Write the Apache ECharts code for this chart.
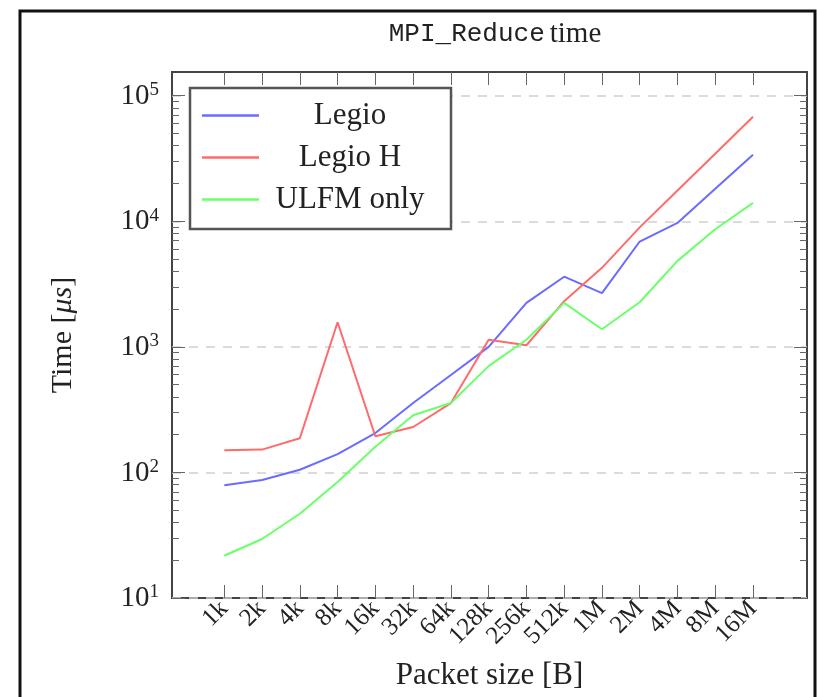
<!DOCTYPE html>
<html>
<head>
<meta charset="utf-8">
<script src="https://cdn.jsdelivr.net/npm/echarts@6/dist/echarts.min.js"></script>
<style>
  html, body { margin: 0; padding: 0; background: #fff; }
  #chart { width: 817px; height: 697px; }
</style>
</head>
<body>
<div id="chart"></div>
<script>
(function() {
    'use strict';

    // packet sizes on the x axis
    const sizes = ['1k', '2k', '4k', '8k', '16k', '32k', '64k', '128k', '256k', '512k', '1M', '2M', '4M', '8M', '16M'];

    // times in microseconds
    const legio = [79, 87, 105, 140, 206, 357, 597, 1000, 2240, 3620, 2680, 6900, 9700, 18200, 33900];
    const legioH = [150, 152, 187, 1570, 194, 230, 357, 1140, 1030, 2310, 4260, 8940, 17600, 34500, 67900];
    const ulfm = [21.7, 29.5, 46.9, 83.8, 160, 285, 357, 702, 1140, 2240, 1380, 2265, 4840, 8650, 14000];

    const majorTicks = [10, 100, 1000, 10000, 100000];
    const minorTicks = [];
    [10, 100, 1000, 10000].forEach(function(d) {
        for (let k = 2; k <= 9; k++) minorTicks.push(k * d);
    });
    const xIdx = sizes.map(function(_, i) { return i; });

    const serif = '"Liberation Serif", "DejaVu Serif", serif';
    const mono = '"Liberation Mono", "DejaVu Sans Mono", monospace';
    const tickColor = '#666';
    const textColor = '#222';

    function pairs(arr) {
        return arr.map(function(v, i) { return [i, v]; });
    }

    function yAxisPair(side) {
        const base = {
            type: 'log',
            logBase: 10,
            min: 10,
            max: 154500,
            position: side,
            axisLine: { show: false, onZero: false }
        };
        const major = Object.assign({}, base, {
            axisTick: { inside: true, length: 13, customValues: majorTicks, lineStyle: { color: tickColor, width: 1 } },
            axisLabel: side === 'left' ? {
                customValues: majorTicks,
                margin: 13,
                formatter: function(v) {
                    return '{b|10}{s|' + Math.round(Math.log10(v)) + '}';
                },
                rich: {
                    b: { fontFamily: serif, fontSize: 29, color: textColor, verticalAlign: 'bottom', lineHeight: 30 },
                    s: { fontFamily: serif, fontSize: 19, color: textColor, verticalAlign: 'top', lineHeight: 30, padding: [0, 0, 14, 0] }
                }
            } : { show: false },
            splitLine: side === 'left' ? {
                show: true,
                lineStyle: { color: '#cfcfcf', type: [9, 8], width: 1.5 }
            } : { show: false }
        });
        if (side === 'left') {
            major.name = 'Time [{i|μs}]';
            major.nameLocation = 'middle';
            major.nameGap = 94;
            major.nameTextStyle = {
                fontFamily: serif, fontSize: 30, color: textColor,
                rich: { i: { fontFamily: serif, fontStyle: 'italic', fontSize: 30, color: textColor } }
            };
        }
        const minor = Object.assign({}, base, {
            axisTick: { inside: true, length: 7, customValues: minorTicks, lineStyle: { color: tickColor, width: 1 } },
            axisLabel: { show: false },
            splitLine: { show: false }
        });
        return [major, minor];
    }

    const chart = echarts.init(document.getElementById('chart'));

    const option = {
        animation: false,
        backgroundColor: '#fff',
        title: {
            text: '{m|MPI_Reduce} {s|time}',
            left: 490,
            textAlign: 'center',
            top: 15,
            textStyle: {
                fontWeight: 'normal',
                rich: {
                    m: { fontFamily: mono, fontSize: 26, fontWeight: 'normal', color: textColor },
                    s: { fontFamily: serif, fontSize: 29, fontWeight: 'normal', color: textColor }
                }
            }
        },
        graphic: [{
            type: 'rect',
            z: 100,
            silent: true,
            shape: { x: 20, y: 11, width: 795, height: 700 },
            style: { fill: 'none', stroke: '#111', lineWidth: 3 }
        }],
        grid: {
            left: 172,
            right: 10,
            top: 72,
            bottom: 99,
            show: true,
            borderColor: '#444',
            borderWidth: 2,
            backgroundColor: 'transparent'
        },
        legend: {
            orient: 'vertical',
            left: 190,
            top: 88,
            backgroundColor: '#fff',
            borderColor: '#555',
            borderWidth: 2.5,
            borderRadius: 0,
            padding: [12, 15, 14, 12],
            icon: 'rect',
            itemWidth: 57,
            itemHeight: 2.5,
            itemGap: 11,
            z: 10,
            formatter: function(name) { return '{c|' + name + '}'; },
            textStyle: {
                rich: {
                    c: { fontFamily: serif, fontSize: 31, color: textColor, width: 172, align: 'center', lineHeight: 30 }
                }
            }
        },
        xAxis: [{
            type: 'value',
            min: -1.385,
            max: 15.43,
            position: 'bottom',
            axisLine: { show: false, onZero: false },
            splitLine: { show: false },
            axisTick: { inside: true, length: 13, customValues: xIdx, lineStyle: { color: tickColor, width: 1 } },
            axisLabel: {
                customValues: xIdx,
                rotate: 45,
                margin: 7,
                fontFamily: serif,
                fontSize: 25,
                color: textColor,
                formatter: function(v) { return sizes[v]; }
            },
            name: 'Packet size [B]',
            nameLocation: 'middle',
            nameGap: 62,
            nameTextStyle: { fontFamily: serif, fontSize: 31, color: textColor }
        }, {
            type: 'value',
            min: -1.385,
            max: 15.43,
            position: 'top',
            axisLine: { show: false, onZero: false },
            splitLine: { show: false },
            axisTick: { inside: true, length: 13, customValues: xIdx, lineStyle: { color: tickColor, width: 1 } },
            axisLabel: { show: false }
        }],
        yAxis: yAxisPair('left').concat(yAxisPair('right')),
        series: [{
            name: 'Legio',
            type: 'line',
            data: pairs(legio),
            symbol: 'none',
            lineStyle: { color: '#6b6bff', width: 2 },
            itemStyle: { color: '#6b6bff' }
        }, {
            name: 'Legio H',
            type: 'line',
            data: pairs(legioH),
            symbol: 'none',
            lineStyle: { color: '#ff6b6b', width: 2 },
            itemStyle: { color: '#ff6b6b' }
        }, {
            name: 'ULFM only',
            type: 'line',
            data: pairs(ulfm),
            symbol: 'none',
            lineStyle: { color: '#6bff6b', width: 2 },
            itemStyle: { color: '#6bff6b' }
        }]
    };

    chart.setOption(option);
})();
</script>
</body>
</html>
